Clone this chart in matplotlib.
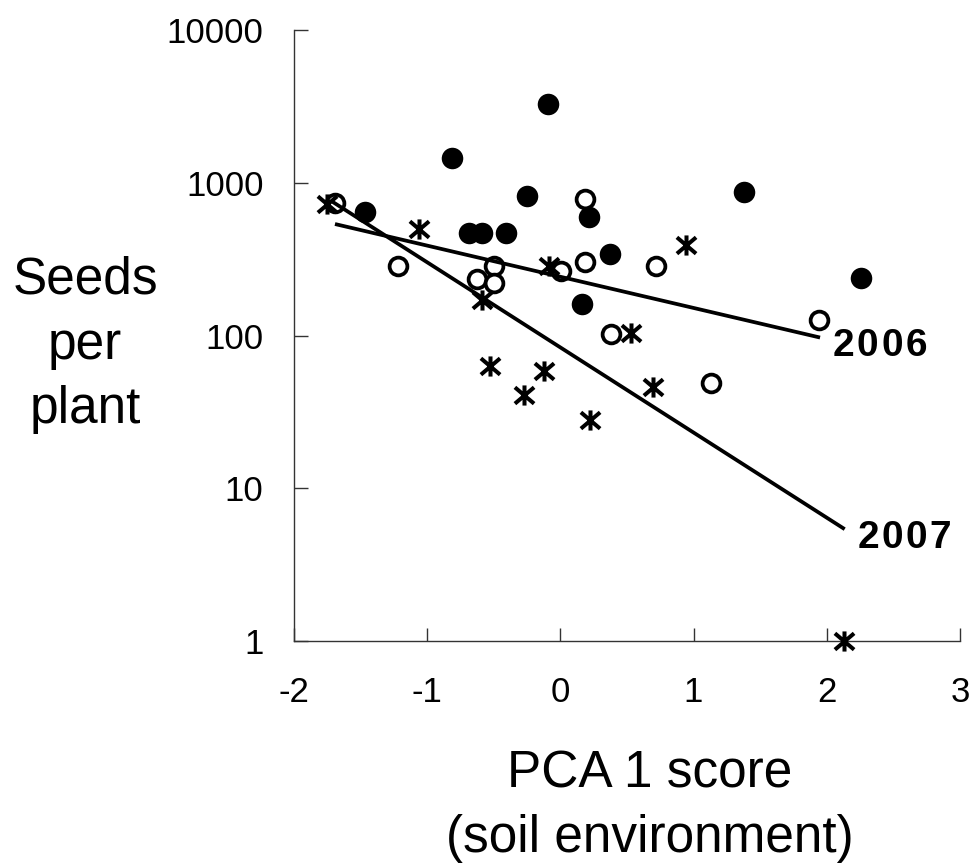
import matplotlib
matplotlib.use("Agg")
import matplotlib.pyplot as plt
from matplotlib.path import Path
import numpy as np

plt.rcParams['font.family'] = ['Liberation Sans', 'DejaVu Sans']
plt.rcParams['axes.unicode_minus'] = False

# ---- data ----
filled_x = [-1.466, -0.81, -0.684, -0.589, -0.406, -0.25, -0.093, 0.163, 0.218, 0.376, 1.378, 2.256]
filled_y = [641, 1445, 467, 467, 467, 823, 3280, 162, 600, 342, 874, 237]

open_x = [-1.692, -1.216, -0.626, -0.496, -0.496, 0.005, 0.188, 0.188, 0.381, 0.722, 1.128, 1.942]
open_y = [733, 286, 234, 286, 220, 266, 783, 304, 103, 285, 49, 126]

star_x = [-1.754, -1.06, -0.589, -0.526, -0.276, -0.12, -0.088, 0.226, 0.534, 0.697, 0.940, 2.13]
star_y = [726, 498, 171, 63, 41, 59, 286, 28, 104, 46, 391, 1]

fit2006_x = [-1.692, 1.95]
fit2006_y = [537, 97]
fit2007_x = [-1.72, 2.135]
fit2007_y = [760, 5.4]

x_ticks = [-2, -1, 0, 1, 2, 3]
y_ticks = [1, 10, 100, 1000, 10000]
y_ticklabels = ['1', '10', '100', '1000', '10000']

label_2006 = '2006'
label_2006_pos = (2.045, 85.4)
label_2007 = '2007'
label_2007_pos = (2.23, 4.72)

# ---- figure ----
fig = plt.figure(figsize=(9.75, 8.68), dpi=100)
ax = fig.add_axes([0.3015, 0.2615, 0.683, 0.7039])

star_marker = Path(
    [(-1, -0.85), (1, 0.85), (-1, 0.85), (1, -0.85), (0, -1.05), (0, 1.05)],
    [Path.MOVETO, Path.LINETO, Path.MOVETO, Path.LINETO, Path.MOVETO, Path.LINETO])

ax.plot(filled_x, filled_y, linestyle='none', marker='o', ms=15.5,
        mfc='black', mec='black', mew=0, clip_on=False, zorder=3)
ax.plot(open_x, open_y, linestyle='none', marker='o', ms=12.8,
        mfc='white', mec='black', mew=2.7, clip_on=False, zorder=3)
ax.plot(star_x, star_y, linestyle='none', marker=star_marker, ms=14.5,
        mfc='none', mec='black', mew=2.9, clip_on=False, zorder=4)

ax.plot(fit2006_x, fit2006_y, color='black', lw=2.7, zorder=5, solid_capstyle='butt')
ax.plot(fit2007_x, fit2007_y, color='black', lw=2.7, zorder=5, solid_capstyle='butt')

ax.set_yscale('log')
ax.set_xlim(-2, 3)
ax.set_ylim(1, 10000)
ax.set_yticks(y_ticks)
ax.set_yticklabels(y_ticklabels)
ax.yaxis.set_minor_locator(matplotlib.ticker.NullLocator())
ax.set_xticks(x_ticks)
ax.set_xticklabels([str(v) for v in x_ticks])

for s in ['top', 'right']:
    ax.spines[s].set_visible(False)
for s in ['left', 'bottom']:
    ax.spines[s].set_linewidth(1.0)
    ax.spines[s].set_color('#333333')

ax.tick_params(axis='y', direction='in', length=10, width=1.0, color='#333333',
               labelsize=25, pad=22)
ax.tick_params(axis='x', direction='in', length=9.5, width=1.0, color='#333333',
               labelsize=25, pad=25)

# spaced bold year labels
def spaced_label(text, pos):
    for i, ch in enumerate(text):
        ax.annotate(ch, xy=pos, xytext=(i * 17.4, 0), textcoords='offset points',
                    fontsize=28, fontweight='bold', ha='left', va='center',
                    annotation_clip=False)

spaced_label(label_2006, label_2006_pos)
spaced_label(label_2007, label_2007_pos)

fig.text(85 / 975, 1 - 345 / 868, 'Seeds\nper\nplant', ha='center', va='center',
         fontsize=37, linespacing=1.42)
fig.text(650 / 975, 1 - 806 / 868, 'PCA 1 score\n(soil environment)', ha='center',
         va='center', fontsize=37, linespacing=1.42)

fig.savefig('out.png', dpi=100)
